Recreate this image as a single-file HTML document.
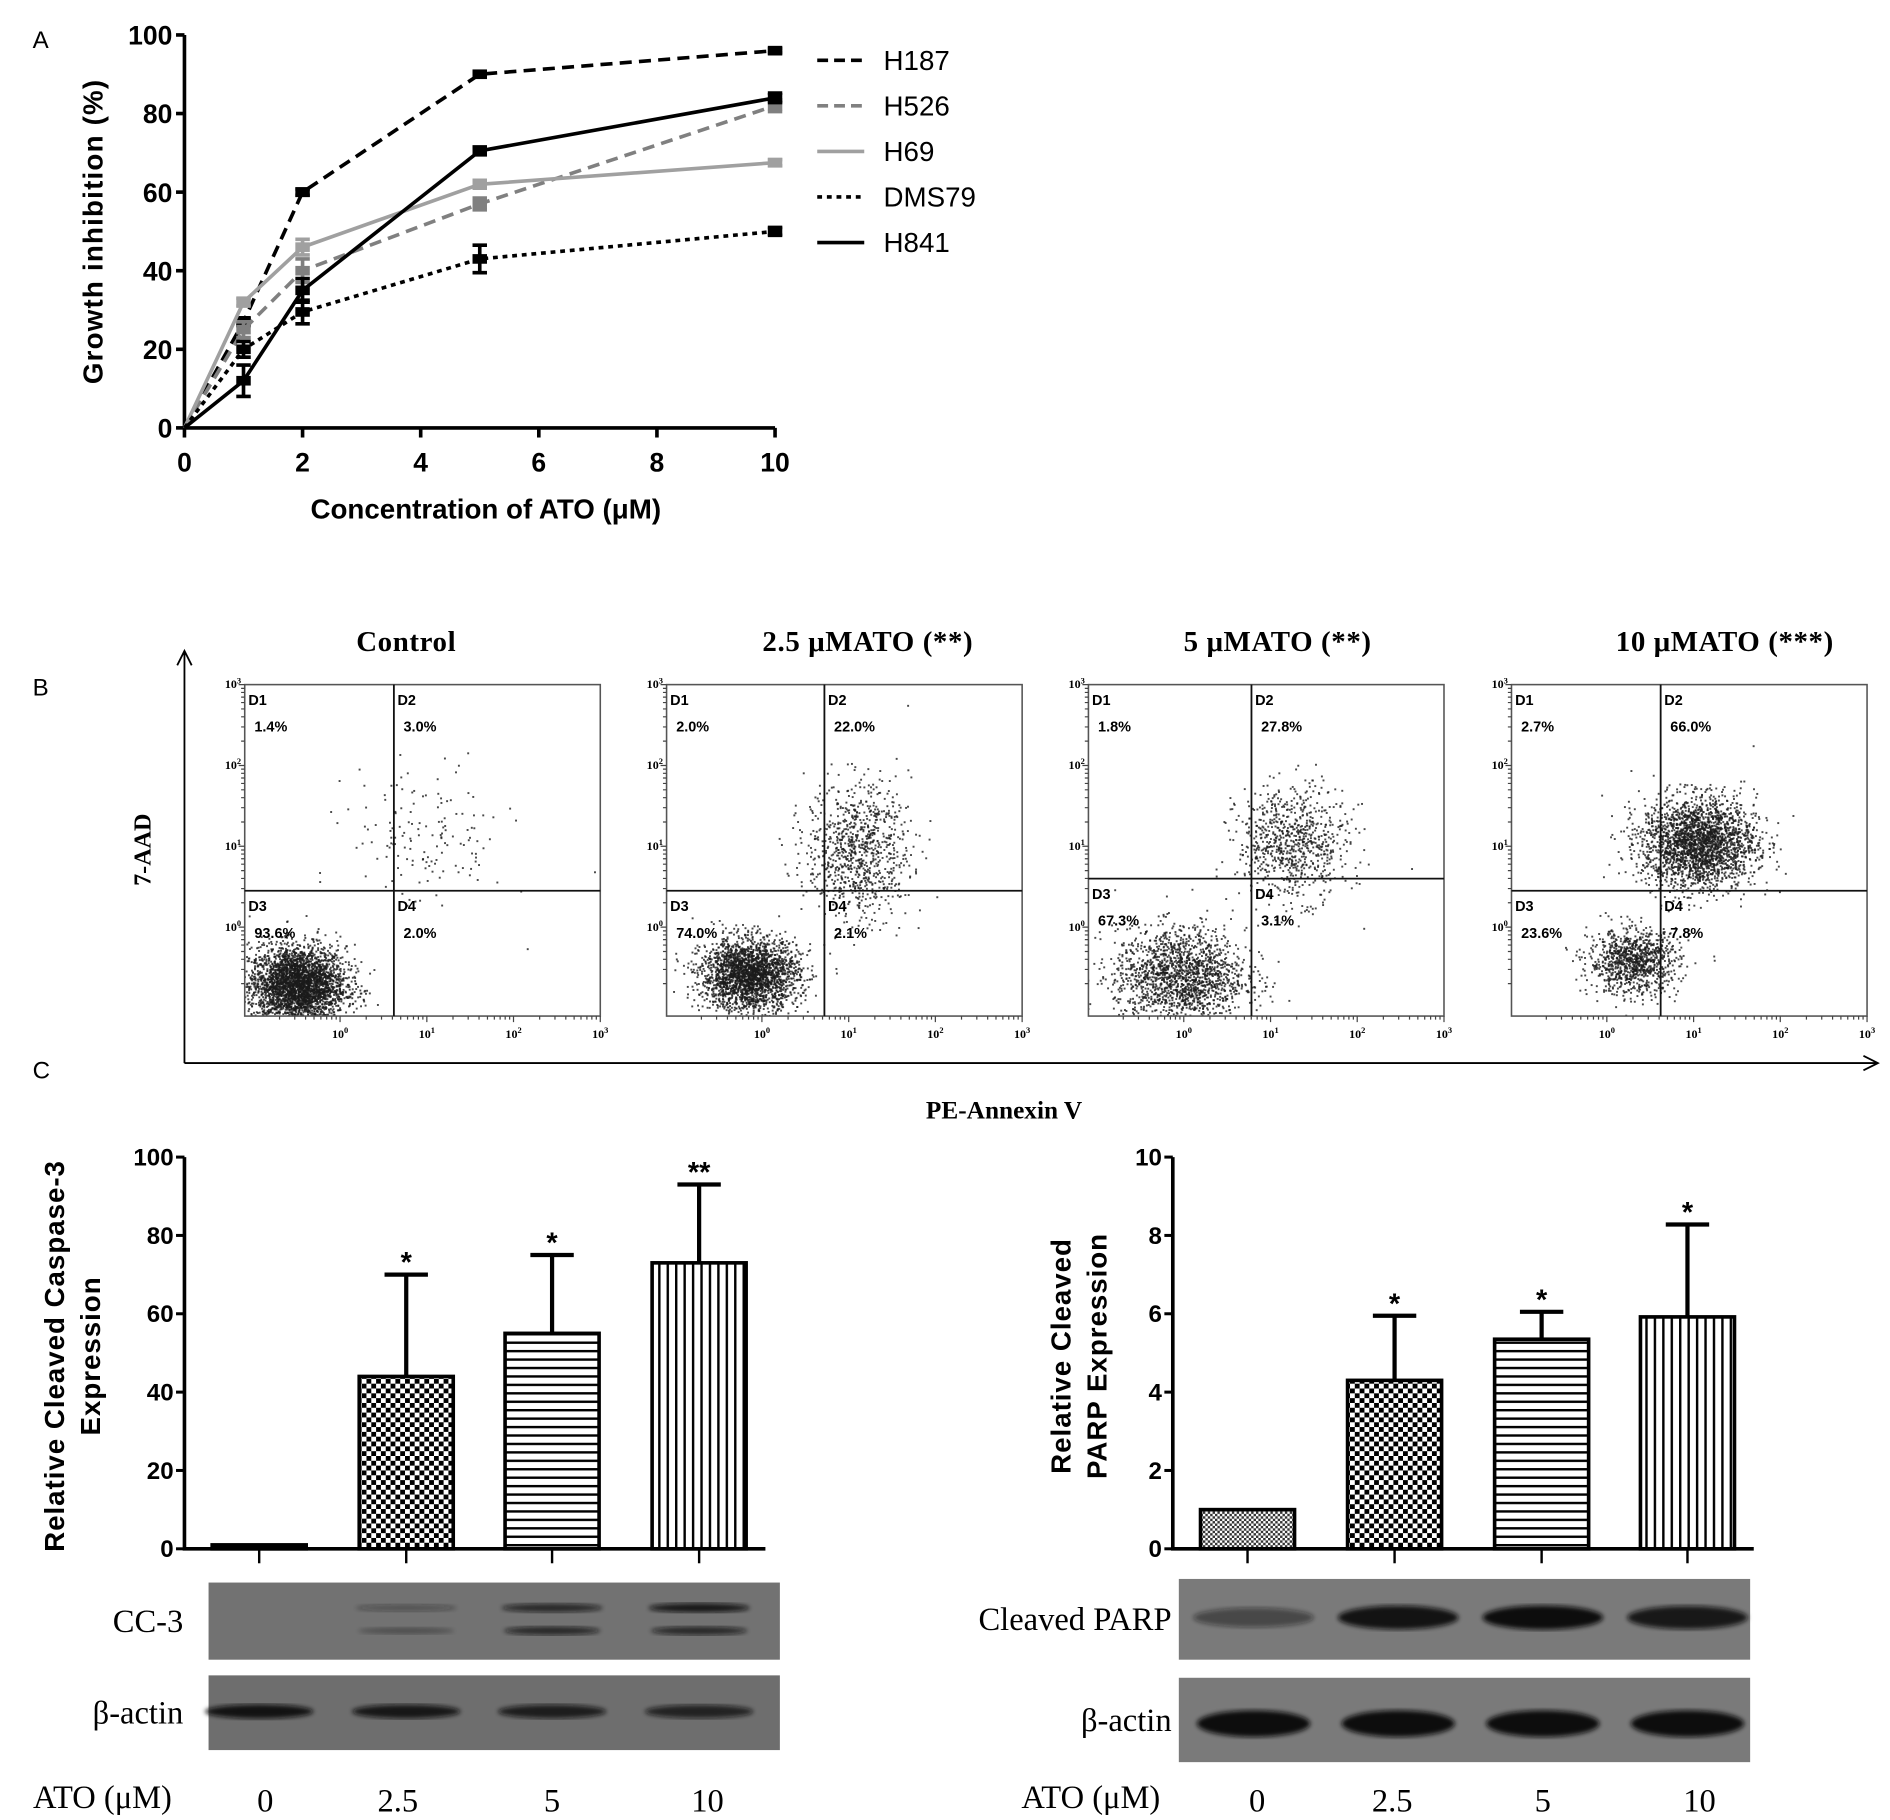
<!DOCTYPE html>
<html><head><meta charset="utf-8"><style>
html,body{margin:0;padding:0;background:#fff}
svg{display:block}
.sans{font-family:"Liberation Sans",sans-serif}
.serif{font-family:"Liberation Serif",serif}
</style></head><body>
<svg id="fig" width="1890" height="1820" viewBox="0 0 1568 1510" xmlns="http://www.w3.org/2000/svg">
<g id="panelA"></g>
<g id="panelB"></g>
<g id="panelCL"></g>
<g id="panelCR"></g>
</svg>
<script>
// ---------- Panel A data ----------
const concX = [0, 1, 2, 5, 10];
const seriesNames = ["H187", "H526", "H69", "DMS79", "H841"];
const h187 = [0, 27, 60, 90, 96];
const h526 = [0, 25, 40, 57, 82];
const h69 = [0, 32, 46, 62, 67.5];
const dms79 = [0, 20, 29.5, 43, 50];
const h841 = [0, 12, 35, 70.5, 84];
const h187Err = [0, 1, 0.8, 0.5, 0.5];
const h526Err = [0, 2, 3, 1.5, 1.5];
const h69Err = [0, 1, 2, 1, 0.8];
const dms79Err = [0, 2, 3, 3.5, 1];
const h841Err = [0, 4, 3, 1, 1.2];
const xTicksA = [0, 2, 4, 6, 8, 10];
const yTicksA = [0, 20, 40, 60, 80, 100];
// ---------- Panel B data ----------
const flowTitles = ["Control", "2.5 μMATO  (**)", "5 μMATO  (**)", "10 μMATO  (***)"];
const flowD1 = ["1.4%", "2.0%", "1.8%", "2.7%"];
const flowD2 = ["3.0%", "22.0%", "27.8%", "66.0%"];
const flowD3 = ["93.6%", "74.0%", "67.3%", "23.6%"];
const flowD4 = ["2.0%", "2.1%", "3.1%", "7.8%"];
const gateX = [0.62, 0.72, 0.78, 0.62];   // log10 quadrant gates
const gateY = [0.45, 0.45, 0.60, 0.45];
// clusters: [centerLogX, centerLogY, sdX, sdY, count]
const flowClusters = [
  [[-0.5, -0.71, 0.28, 0.24, 3200], [1.0, 1.1, 0.45, 0.45, 150]],
  [[-0.15, -0.58, 0.28, 0.22, 2400], [1.1, 0.95, 0.3, 0.42, 900]],
  [[-0.05, -0.6, 0.38, 0.3, 1700], [1.25, 1.05, 0.32, 0.35, 800]],
  [[0.3, -0.42, 0.26, 0.2, 1000], [1.05, 1.05, 0.33, 0.28, 2400]]
];
// ---------- Panel C data ----------
const atoCats = ["0", "2.5", "5", "10"];
const caspVals = [1, 44, 55, 73];
const caspErr = [0, 26, 20, 20];
const caspStars = ["", "*", "*", "**"];
const yTicksCL = [0, 20, 40, 60, 80, 100];
const parpVals = [1, 4.3, 5.35, 5.92];
const parpErr = [0, 1.65, 0.7, 2.36];
const parpStars = ["", "*", "*", "*"];
const yTicksCR = [0, 2, 4, 6, 8, 10];
const cc3Upper = [0, 0.35, 0.75, 0.9];
const cc3Lower = [0, 0.3, 0.75, 0.75];
const actinL = [0.95, 0.9, 0.85, 0.8];
const parpBand = [0.5, 0.95, 1.0, 0.9];
const actinR = [1, 1, 1, 1];

const NS = "http://www.w3.org/2000/svg";
function mk(parent, tag, attrs, text) {
  const e = document.createElementNS(NS, tag);
  for (const k in attrs) e.setAttribute(k, attrs[k]);
  if (text !== undefined) e.textContent = text;
  parent.appendChild(e);
  return e;
}
const svg = document.getElementById("fig");
const defs = mk(svg, "defs", {});


defs.innerHTML = `
<pattern id="checker" width="8" height="8" patternUnits="userSpaceOnUse"><rect width="8" height="8" fill="#fff"/><rect width="4" height="4" fill="#000"/><rect x="4" y="4" width="4" height="4" fill="#000"/></pattern>
<pattern id="fineChecker" width="4" height="4" patternUnits="userSpaceOnUse"><rect width="4" height="4" fill="#fff"/><rect width="2" height="2" fill="#333"/><rect x="2" y="2" width="2" height="2" fill="#333"/></pattern>
<pattern id="hstripe" width="8" height="7" patternUnits="userSpaceOnUse"><rect width="8" height="7" fill="#fff"/><rect y="0" width="8" height="2" fill="#000"/></pattern>
<pattern id="vstripe" width="7" height="8" patternUnits="userSpaceOnUse"><rect width="7" height="8" fill="#fff"/><rect x="0" width="2" height="8" fill="#000"/></pattern>
<filter id="blur2"><feGaussianBlur stdDeviation="2"/></filter>`;

// ================= PANEL A =================
(function(){
  const g = document.getElementById("panelA");
  const X0 = 153, X1 = 643, Y0 = 355, Y1 = 29;
  const xs = v => X0 + (X1 - X0) * v / 10;
  const ys = v => Y0 - (Y0 - Y1) * v / 100;
  let t = mk(g, "text", {x: 27, y: 40, "font-size": 20, class: "sans"}, "A");
   
  const ax = mk(g, "path", {d: `M${X0},${Y1} V${Y0} H${X1}`, stroke: "#000", "stroke-width": 3, fill: "none"});
   
  yTicksA.forEach(v => {
    const l = mk(g, "line", {x1: X0 - 7, x2: X0, y1: ys(v), y2: ys(v), stroke: "#000", "stroke-width": 3});
     
    const tx = mk(g, "text", {x: X0 - 10, y: ys(v) + 8, "text-anchor": "end", "font-size": 22, "font-weight": "bold", class: "sans"}, String(v));
     
  });
  xTicksA.forEach(v => {
    const l = mk(g, "line", {x1: xs(v), x2: xs(v), y1: Y0, y2: Y0 + 8, stroke: "#000", "stroke-width": 3});
     
    const tx = mk(g, "text", {x: xs(v), y: Y0 + 36, "text-anchor": "middle", "font-size": 22, "font-weight": "bold", class: "sans"}, String(v));
     
  });
  t = mk(g, "text", {x: 403, y: 430, "text-anchor": "middle", "font-size": 23, "font-weight": "bold", class: "sans"}, "Concentration of ATO (μM)");
   
  t = mk(g, "text", {x: 0, y: 0, "text-anchor": "middle", "font-size": 23, "font-weight": "bold", class: "sans", "letter-spacing": 1, transform: "translate(85,192) rotate(-90)"}, "Growth inhibition (%)");
   
  const all = [h187, h526, h69, dms79, h841];
  const errs = [h187Err, h526Err, h69Err, dms79Err, h841Err];
  const colors = ["#000", "#808080", "#a0a0a0", "#000", "#000"];
  const dashes = ["10,6", "10,6", "none", "4,4", "none"];
  all.forEach((vals, si) => {
    const d = vals.map((v, i) => (i ? "L" : "M") + xs(concX[i]) + "," + ys(v)).join(" ");
    const p = mk(g, "path", {d, stroke: colors[si], "stroke-width": 3, fill: "none", "stroke-dasharray": dashes[si]});
     
    vals.forEach((v, i) => {
      if (i === 0) return;
      const x = xs(concX[i]), e = errs[si][i];
      const eb = mk(g, "path", {d: `M${x-6},${ys(v+e)} H${x+6} M${x},${ys(v+e)} V${ys(v-e)} M${x-6},${ys(v-e)} H${x+6}`, stroke: colors[si], "stroke-width": 3, fill: "none"});
       
      const m = mk(g, "rect", {x: x - 6, y: ys(v) - 4, width: 12, height: 8, fill: colors[si]});
       
    });
    const ly = 50 + si * 37.8;
    const ll = mk(g, "line", {x1: 678, x2: 717, y1: ly, y2: ly, stroke: colors[si], "stroke-width": 3, "stroke-dasharray": dashes[si] === "10,6" ? "9,5" : dashes[si]});
     
    const lt = mk(g, "text", {x: 733, y: ly + 8, "font-size": 23, class: "sans"}, seriesNames[si]);
     
  });
})();

// ================= PANEL B =================
(function(){
  const g = document.getElementById("panelB");
  let t = mk(g, "text", {x: 27, y: 577, "font-size": 20, class: "sans"}, "B");
   
  const ax = mk(g, "path", {d: "M153,882 V540 M147,552 L153,540 L159,552 M153,882 H1558 M1546,876 L1558,882 L1546,888", stroke: "#000", "stroke-width": 1.5, fill: "none"});
   
  t = mk(g, "text", {x: 0, y: 0, "text-anchor": "middle", "font-size": 20, "font-weight": "bold", class: "serif", transform: "translate(125,705) rotate(-90)"}, "7-AAD");
   
  t = mk(g, "text", {x: 833, y: 928, "text-anchor": "middle", "font-size": 21, "font-weight": "bold", class: "serif"}, "PE-Annexin V");
   
  const boxX = [203, 553, 903, 1254];
  const titleX = [337, 720, 1060, 1431];
  const W = 295, H = 275, TOP = 568;
  let seed = 12345;
  const rnd = () => { seed = (seed * 1103515245 + 12345) % 2147483648; return seed / 2147483648; };
  const gauss = () => { const u = rnd() || 1e-6, v = rnd(); return Math.sqrt(-2 * Math.log(u)) * Math.cos(2 * Math.PI * v); };
  const lo = -1.1, hi = 3;
  flowTitles.forEach((title, pi) => {
    const bx = boxX[pi];
    const px = lv => bx + W * (lv - lo) / (hi - lo);
    const py = lv => TOP + H * (hi - lv) / (hi - lo);
    const pg = mk(g, "g", {});
     
    const tt = mk(pg, "text", {x: titleX[pi], y: 540, "text-anchor": "middle", "font-size": 24, "font-weight": "bold", class: "serif", "letter-spacing": 0.5}, title);
     
    const clip = mk(defs, "clipPath", {id: "clip" + pi});
    mk(clip, "rect", {x: bx, y: TOP, width: W, height: H});
    const dots = mk(pg, "g", {"clip-path": `url(#clip${pi})`, fill: "#1a1a1a"});
     
    let html = "";
    flowClusters[pi].forEach(c => {
      for (let k = 0; k < c[4]; k++) {
        const x = px(c[0] + c[2] * gauss()), y = py(c[1] + c[3] * gauss());
        html += `<rect x="${x.toFixed(1)}" y="${y.toFixed(1)}" width="1.6" height="1.6" fill-opacity="0.8"/>`;
      }
    });
    dots.innerHTML = html;
    const box = mk(pg, "rect", {x: bx, y: TOP, width: W, height: H, fill: "none", stroke: "#555", "stroke-width": 1.3});
     
    const gx = px(gateX[pi]), gy = py(gateY[pi]);
    const q = mk(pg, "path", {d: `M${gx},${TOP} V${TOP+H} M${bx},${gy} H${bx+W}`, stroke: "#111", "stroke-width": 1.5});
     
    const labs = [["D1", flowD1[pi], bx + 3, TOP + 17], ["D2", flowD2[pi], gx + 3, TOP + 17], ["D3", flowD3[pi], bx + 3, gy + 17], ["D4", flowD4[pi], gx + 3, gy + 17]];
    labs.forEach(l => {
      const a = mk(pg, "text", {x: l[2], y: l[3], "font-size": 12, "font-weight": "bold", class: "sans"}, l[0]);
       
      const b = mk(pg, "text", {x: l[2] + 5, y: l[3] + 22, "font-size": 12, "font-weight": "bold", class: "sans"}, l[1]);
       
    });
    [0, 1, 2, 3].forEach(e => {
      const lx = mk(pg, "text", {x: px(e), y: TOP + H + 18, "text-anchor": "middle", "font-size": 10, "font-weight": "bold", class: "serif"}, "10");
       
      mk(lx, "tspan", {dy: -4, "font-size": 7}, String(e));
      const ly = mk(pg, "text", {x: bx - 3, y: py(e) + 3, "text-anchor": "end", "font-size": 10, "font-weight": "bold", class: "serif"}, "10");
       
      mk(ly, "tspan", {dy: -4, "font-size": 7}, String(e));
    });
    let tk = "";
    for (let d = -1; d < 3; d++) for (let m = 2; m <= 10; m++) {
      const lv = d + Math.log10(m); if (lv < lo) continue;
      const len = m === 10 ? 5 : 3;
      tk += `M${px(lv).toFixed(1)},${TOP+H} v${len} M${bx},${py(lv).toFixed(1)} h-${len} `;
    }
    const ticks = mk(pg, "path", {d: tk, stroke: "#444", "stroke-width": 1});
     
  });
})();

// ================= PANEL C =================
function barPanel(gid, axisX, vals, errs, stars, ticks, ymax, labelLines, labelX, centers, fills, name) {
  const g = document.getElementById(gid);
  const Y0 = 1285, Y1 = 960;
  const ys = v => Y0 - (Y0 - Y1) * v / ymax;
  const ax = mk(g, "path", {d: `M${axisX},${Y1} V${Y0} H${centers[3] + 55}`, stroke: "#000", "stroke-width": 3, fill: "none"});
   
  ticks.forEach(v => {
    const l = mk(g, "line", {x1: axisX - 7, x2: axisX, y1: ys(v), y2: ys(v), stroke: "#000", "stroke-width": 2.5});
     
    const tx = mk(g, "text", {x: axisX - 9, y: ys(v) + 7, "text-anchor": "end", "font-size": 20, "font-weight": "bold", class: "sans"}, String(v));
     
  });
  labelLines.forEach((ln, i) => {
    const tx = mk(g, "text", {x: 0, y: 0, "text-anchor": "middle", "font-size": 23, "font-weight": "bold", class: "sans", "letter-spacing": 0.8, transform: `translate(${labelX + i * 30},1125) rotate(-90)`}, ln);
     
  });
  vals.forEach((v, i) => {
    const c = centers[i], bw = 78;
    const l = mk(g, "line", {x1: c, x2: c, y1: Y0, y2: Y0 + 12, stroke: "#000", "stroke-width": 2});
     
    if (errs[i] > 0) {
      const eb = mk(g, "path", {d: `M${c},${ys(v)} V${ys(v + errs[i])} M${c-18},${ys(v + errs[i])} H${c+18}`, stroke: "#000", "stroke-width": 3.5});
       
    }
    const r = mk(g, "rect", {x: c - bw / 2, y: ys(v), width: bw, height: Y0 - ys(v), fill: fills[i], stroke: "#000", "stroke-width": 3});
     
    if (stars[i]) {
      const s = mk(g, "text", {x: c, y: ys(v + errs[i]) - 2, "text-anchor": "middle", "font-size": 24, "font-weight": "bold", class: "sans"}, stars[i]);
       
    }
  });
}
let tC = mk(document.getElementById("panelCL"), "text", {x: 27, y: 895, "font-size": 20, class: "sans"}, "C");
 
barPanel("panelCL", 153, caspVals, caspErr, caspStars, yTicksCL, 100, ["Relative Cleaved Caspase-3", "Expression"], 53, [215, 337, 458, 580], ["#000", "url(#checker)", "url(#hstripe)", "url(#vstripe)"], "caspase");
barPanel("panelCR", 973, parpVals, parpErr, parpStars, yTicksCR, 10, ["Relative Cleaved", "PARP Expression"], 888, [1035, 1157, 1279, 1400], ["url(#fineChecker)", "url(#checker)", "url(#hstripe)", "url(#vstripe)"], "parp");

function blot(gid, x, y, w, h, bg, lanes, bands, label, labelX, name) {
  const g = document.getElementById(gid);
  const bg0 = mk(g, "rect", {x, y, width: w, height: h, fill: bg});
   
  bands.forEach(b => {
    b.vals.forEach((v, i) => {
      if (v <= 0) return;
      const e = mk(g, "ellipse", {cx: lanes[i], cy: y + b.dy, rx: b.rx, ry: b.ry * (0.6 + 0.4 * v), fill: "#111", "fill-opacity": Math.min(1, v), filter: "url(#blur2)"});
       
    });
  });
  const t = mk(g, "text", {x: labelX, y: y + h / 2 + 9, "text-anchor": "end", "font-size": 27, class: "serif"}, label);
   
}
const laneL = [215, 337, 458, 580], laneR = [1040, 1160, 1280, 1400];
blot("panelCL", 173, 1313, 474, 64, "#727272", laneL, [{vals: cc3Upper, dy: 21, rx: 42, ry: 4}, {vals: cc3Lower, dy: 40, rx: 40, ry: 4}], "CC-3", 152, "cc3");
blot("panelCL", 173, 1390, 474, 62, "#6e6e6e", laneL, [{vals: actinL, dy: 30, rx: 45, ry: 6}], "β-actin", 152, "actin-left");
blot("panelCR", 978, 1310, 474, 67, "#7a7a7a", laneR, [{vals: parpBand, dy: 32, rx: 50, ry: 10}], "Cleaved PARP", 972, "parp");
blot("panelCR", 978, 1392, 474, 70, "#7a7a7a", laneR, [{vals: actinR, dy: 38, rx: 47, ry: 11}], "β-actin", 972, "actin-right");

[["panelCL", 85, laneL, [220, 330, 458, 587]], ["panelCR", 905, laneR, [1043, 1155, 1280, 1410]]].forEach(a => {
  const g = document.getElementById(a[0]);
  const t = mk(g, "text", {x: a[1], y: 1500, "text-anchor": "middle", "font-size": 27, class: "serif"}, "ATO (μM)");
   
  atoCats.forEach((c, i) => {
    const u = mk(g, "text", {x: a[3][i], y: 1503, "text-anchor": "middle", "font-size": 27, class: "serif"}, c);
     
  });
});
</script>
</body></html>
